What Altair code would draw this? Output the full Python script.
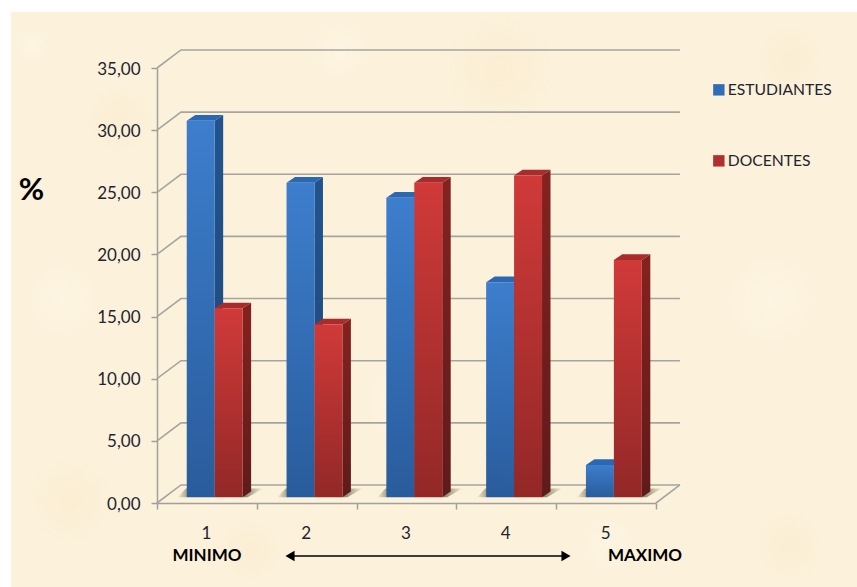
import altair as alt
import pandas as pd

# Survey results per level of the 1-5 scale (percent)
niveles = [1, 2, 3, 4, 5]
estudiantes = [30.3, 25.3, 24.1, 17.3, 2.6]
docentes = [15.2, 13.9, 25.3, 25.9, 19.1]
marcas_y = [0, 5, 10, 15, 20, 25, 30, 35]
marcas_x = [0.5, 1, 1.5, 2, 2.5, 3, 3.5, 4, 4.5, 5, 5.5]

FONT = "Lato"
INK = "#1c2530"
AXIS_GREY = "#a0a09c"

# Plot area and pseudo-3D projection, expressed in data units
W, H = 499, 435
PAD_L, PAD_T = 157, 68
WALL_DX, WALL_DY = 0.24, 1.45     # shift from the front plane to the back wall
BAR_DX, BAR_DY = 0.085, 0.46      # depth of each column
BASE_X, BASE_Y = 0.078, 0.46      # columns stand slightly inside the floor
BAR_W = 0.28

X = alt.X("x:Q", scale=alt.Scale(domain=[0.5, 5.5]), axis=alt.Axis(
    values=marcas_x, grid=False, title=None, zindex=1,
    domainColor=AXIS_GREY, domainWidth=1.5, tickColor=AXIS_GREY, tickWidth=1.5, tickSize=6,
    tickOpacity={"condition": {"test": "datum.value % 1 == 0", "value": 0}, "value": 1},
    labelExpr="datum.value % 1 == 0 ? datum.value : ''",
    labelFont=FONT, labelFontSize=17, labelColor=INK, labelPadding=16, labelAngle=0, labelOffset=-1,
))
Y = alt.Y("y:Q", scale=alt.Scale(domain=[0, 35]), stack=None, axis=alt.Axis(
    values=marcas_y, grid=False, zindex=1,
    title="%", titleAngle=0, titleX=31 - PAD_L, titleY=190 - PAD_T,
    titleFont=FONT, titleFontSize=31, titleFontWeight="bold", titleColor="#000000",
    titleAlign="center", titleBaseline="middle",
    domainColor=AXIS_GREY, domainWidth=1.5, tickColor=AXIS_GREY, tickWidth=1.5, tickSize=6,
    labelExpr="replace(format(datum.value, '.2f'), '.', ',')",
    labelFont=FONT, labelFontSize=17, labelColor=INK, labelPadding=11, labelOffset=1,
))


def faces(values, slot):
    """Front, side, top and floor-shadow geometry for one series."""
    front, side, top, shadow = [], [], [], []
    for n, v in zip(niveles, values):
        x0 = n + BASE_X + (slot - 2) * BAR_W
        x1 = x0 + BAR_W
        y0, y1 = BASE_Y, v + BASE_Y
        front.append(dict(n=n, x=x0, x2=x1, y=y0, y2=y1))
        side += [dict(n=n, x=x1, y=y0, y2=y1),
                 dict(n=n, x=x1 + BAR_DX, y=y0 + BAR_DY, y2=y1 + BAR_DY)]
        top += [dict(n=n, y=y1, x=x0, x2=x1),
                dict(n=n, y=y1 + BAR_DY, x=x0 + BAR_DX, x2=x1 + BAR_DX)]
        if slot == 1:
            shadow += [dict(n=n, y=y0, x=x0 - 0.09, x2=x0),
                       dict(n=n, y=y0 + 0.7, x=x0 - 0.01, x2=x0 + 0.02)]
        else:
            shadow += [dict(n=n, y=y0, x=x1, x2=x1 + 0.05),
                       dict(n=n, y=y0 + 0.7, x=x1 + 0.06, x2=x1 + 0.2)]
    return map(pd.DataFrame, (front, side, top, shadow))


def vgrad(top, bottom):
    return alt.Gradient(gradient="linear", x1=0, y1=0, x2=0, y2=1,
                        stops=[alt.GradientStop(color=top, offset=0),
                               alt.GradientStop(color=bottom, offset=1)])


def hgrad(left, right):
    return alt.Gradient(gradient="linear", x1=0, y1=0, x2=1, y2=0,
                        stops=[alt.GradientStop(color=left, offset=0),
                               alt.GradientStop(color=right, offset=1)])


def column_layers(values, slot, light, dark, side_top, side_bottom, top_color):
    front, side, top, shadow = faces(values, slot)
    stops = ("#f3ecd2", "#9a967c") if slot == 1 else ("#7d7a62", "#f3ecd2")
    return [
        alt.Chart(shadow).mark_area(orient="horizontal", color=hgrad(*stops))
        .encode(x=X, x2="x2:Q", y=Y, detail="n:N"),
        alt.Chart(side).mark_area(color=vgrad(side_top, side_bottom))
        .encode(x=X, y=Y, y2="y2:Q", detail="n:N"),
        alt.Chart(top).mark_area(orient="horizontal", color=top_color)
        .encode(x=X, x2="x2:Q", y=Y, detail="n:N"),
        alt.Chart(front).mark_rect(color=vgrad(light, dark))
        .encode(x=X, x2="x2:Q", y=Y, y2="y2:Q"),
    ]


one = pd.DataFrame({"a": [0]})

# Page: white margin at top and left, parchment everywhere else
parchment = alt.Chart(one).mark_rect(color="#fcf1da").encode(
    x=alt.value(11 - PAD_L), x2=alt.value(857 - PAD_L),
    y=alt.value(12 - PAD_T), y2=alt.value(587 - PAD_T),
)


def blotch(cx, cy, size, colour, alpha):
    """Soft round stain in the parchment texture."""
    fill = alt.Gradient(gradient="radial", x1=0.5, y1=0.5, r1=0, x2=0.5, y2=0.5, r2=0.5,
                        stops=[alt.GradientStop(color=f"rgba({colour},{alpha})", offset=0),
                               alt.GradientStop(color=f"rgba({colour},0)", offset=1)])
    return alt.Chart(one).mark_point(filled=True, shape="circle", size=size, color=fill, opacity=1).encode(
        x=alt.value(cx - PAD_L), y=alt.value(cy - PAD_T)
    )


PALE = "255,252,242"
TAN = "246,230,194"
stains = [
    blotch(32, 46, 1800, PALE, 0.35), blotch(340, 50, 5000, PALE, 0.35), blotch(62, 300, 9000, PALE, 0.3),
    blotch(770, 300, 14000, PALE, 0.3), blotch(610, 545, 5000, PALE, 0.3), blotch(400, 400, 9000, PALE, 0.3),
    blotch(500, 70, 12000, TAN, 0.3), blotch(790, 545, 5000, TAN, 0.3), blotch(250, 550, 4000, TAN, 0.3),
    blotch(70, 500, 7000, TAN, 0.3), blotch(790, 60, 5000, TAN, 0.3), blotch(120, 120, 5000, TAN, 0.3),
]

# Wall and floor lines: slanted from the front plane, then along the back wall
grid_rows = []
for v in marcas_y:
    grid_rows += [dict(v=v, o=0, x=0.5, y=v),
                  dict(v=v, o=1, x=0.5 + WALL_DX, y=v + WALL_DY),
                  dict(v=v, o=2, x=5.5 + WALL_DX, y=v + WALL_DY)]
grid = alt.Chart(pd.DataFrame(grid_rows)).mark_line(color="#a5a5a0", strokeWidth=1.6).encode(
    x=X, y=Y, detail="v:N", order="o:Q"
)
floor_edge = alt.Chart(pd.DataFrame([dict(x=5.5, y=0), dict(x=5.5 + WALL_DX, y=WALL_DY)])).mark_line(
    color="#a5a5a0", strokeWidth=1.6
).encode(x=X, y=Y)

blue = column_layers(estudiantes, 1, "#3d7ecd", "#295c9c", "#21548f", "#1e4679", "#2b68b3")
red = column_layers(docentes, 2, "#d03a39", "#922827", "#85221f", "#601a1a", "#a92b2b")

# Legend comes from an invisible series layer so the entries stay real
legend_df = pd.DataFrame({"serie": ["ESTUDIANTES", "DOCENTES"], "x": [1.0, 1.0], "y": [0.0, 0.0]})
legend = alt.Chart(legend_df).mark_square(size=0, opacity=0).encode(
    x=X, y=Y,
    color=alt.Color("serie:N", sort=["ESTUDIANTES", "DOCENTES"],
                    scale=alt.Scale(domain=["ESTUDIANTES", "DOCENTES"], range=["#2f6db8", "#b22f2f"]),
                    legend=alt.Legend(
                        orient="none", legendX=711 - PAD_L, legendY=82 - PAD_T, title=None,
                        symbolType="square", symbolSize=130, symbolOpacity=1, symbolStrokeWidth=0,
                        labelFont=FONT, labelFontSize=15.7, labelColor=INK, labelOffset=1,
                        rowPadding=54,
                    )),
)


def note(text, px, py):
    return alt.Chart(pd.DataFrame({"t": [text]})).mark_text(
        font=FONT, fontSize=17, fontWeight="bold", color="#000000", align="center", baseline="middle"
    ).encode(text="t:N", x=alt.value(px - PAD_L), y=alt.value(py - PAD_T))


arrow_line = alt.Chart(one).mark_rule(color="#000000", strokeWidth=1.5).encode(
    x=alt.value(290 - PAD_L), x2=alt.value(566 - PAD_L), y=alt.value(556 - PAD_T)
)
head_l = alt.Chart(one).mark_point(shape="triangle-left", filled=True, color="#000000", size=110, opacity=1).encode(
    x=alt.value(290 - PAD_L), y=alt.value(556 - PAD_T)
)
head_r = alt.Chart(one).mark_point(shape="triangle-right", filled=True, color="#000000", size=110, opacity=1).encode(
    x=alt.value(566 - PAD_L), y=alt.value(556 - PAD_T)
)

chart = alt.layer(
    parchment, *stains, grid, floor_edge, *blue, *red, legend,
    note("MINIMO", 207, 556), note("MAXIMO", 645, 556), arrow_line, head_l, head_r,
).properties(
    width=W, height=H,
    padding={"left": PAD_L, "top": PAD_T, "right": 857 - PAD_L - W, "bottom": 587 - PAD_T - H},
    autosize=alt.AutoSizeParams(type="none"),
    background="#ffffff",
).configure_view(stroke=None)

chart.save("out.html", embed_options={"renderer": "svg", "actions": False})
